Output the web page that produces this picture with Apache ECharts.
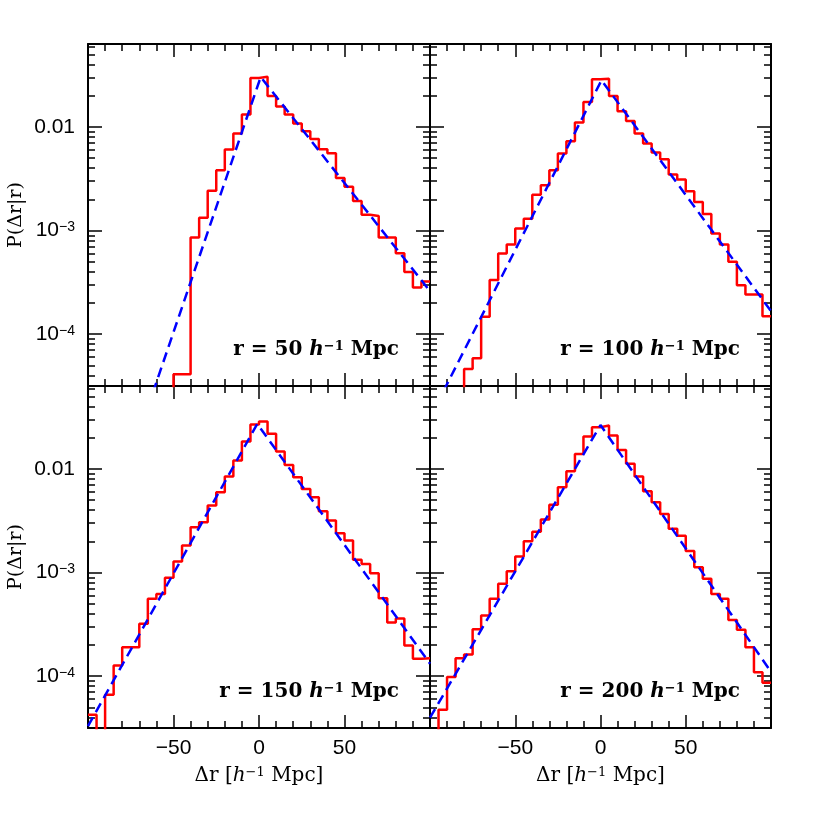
<!DOCTYPE html>
<html>
<head>
<meta charset="utf-8">
<script src="https://cdn.jsdelivr.net/npm/echarts@6/dist/echarts.min.js"></script>
<style>
  html, body { margin: 0; padding: 0; background: #fff; }
  #chart { width: 814px; height: 814px; }
</style>
</head>
<body>
<div id="chart"></div>
<script>
// histogram bins: left edges, 5 h^-1 Mpc wide
const binLeft = [-100, -95, -90, -85, -80, -75, -70, -65, -60, -55,
                 -50, -45, -40, -35, -30, -25, -20, -15, -10, -5,
                 0, 5, 10, 15, 20, 25, 30, 35, 40, 45,
                 50, 55, 60, 65, 70, 75, 80, 85, 90, 95];
const binEnd = 100;
const EMPTY = 1e-7; // empty bin, below the plotted range

const hist50 = [EMPTY, EMPTY, EMPTY, EMPTY, EMPTY, EMPTY, EMPTY, EMPTY, EMPTY, EMPTY,
  4.1e-5, 4.1e-5, 8.55e-4, 1.33e-3, 2.42e-3, 3.82e-3, 6.04e-3, 8.63e-3, 1.315e-2, 0.0297,
  0.0304, 0.0199, 0.0157, 0.01315, 0.01076, 9.08e-3, 7.66e-3, 6.09e-3, 5.57e-3, 3.22e-3,
  2.64e-3, 1.93e-3, 1.42e-3, 1.38e-3, 8.55e-4, 8.55e-4, 6.04e-4, 3.99e-4, 2.82e-4, 3.22e-4];
const hist100 = [EMPTY, EMPTY, EMPTY, EMPTY, 4.6e-5, 5.85e-5, 1.47e-4, 3.33e-4, 6.0e-4, 7.35e-4,
  1.047e-3, 1.3e-3, 2.21e-3, 2.74e-3, 3.82e-3, 5.53e-3, 7.27e-3, 0.0110, 0.01742, 0.0288,
  0.0292, 0.0199, 0.01416, 0.01143, 8.63e-3, 6.9e-3, 5.65e-3, 4.87e-3, 3.47e-3, 3.1e-3,
  2.39e-3, 1.89e-3, 1.44e-3, 9.35e-4, 7.33e-4, 4.99e-4, 2.97e-4, 2.42e-4, 2.42e-4, 1.49e-4];
const hist150 = [4.24e-5, EMPTY, 6.6e-5, 1.27e-4, 1.9e-4, 1.9e-4, 3.2e-4, 5.57e-4, 6.22e-4, 8.89e-4,
  1.276e-3, 1.82e-3, 2.74e-3, 3.06e-3, 4.43e-3, 5.96e-3, 8.43e-3, 0.01203, 0.01837, 0.0268,
  0.0286, 0.0218, 0.0147, 0.01093, 8.31e-3, 6.41e-3, 5.33e-3, 3.91e-3, 3.18e-3, 2.39e-3,
  2.04e-3, 1.33e-3, 1.21e-3, 9.86e-4, 5.65e-4, 3.3e-4, 3.6e-4, 1.98e-4, 1.47e-4, 1.49e-4];
const hist200 = [EMPTY, 4.74e-5, 9.8e-5, 1.49e-4, 1.62e-4, 2.84e-4, 3.85e-4, 5.57e-4, 7.78e-4, 1.03e-3,
  1.43e-3, 2.0e-3, 2.48e-3, 3.24e-3, 4.5e-3, 6.65e-3, 9.5e-3, 0.0139, 0.0206, 0.0252,
  0.0262, 0.021, 0.0152, 0.0112, 8.43e-3, 6.09e-3, 4.77e-3, 3.68e-3, 2.64e-3, 2.27e-3,
  1.61e-3, 1.125e-3, 8.69e-4, 6.22e-4, 5.57e-4, 3.49e-4, 2.8e-4, 1.9e-4, 1.09e-4, 8.63e-5];

// dashed model curves
const fit50 = [[-62, 2.75e-5], [1, 0.0303], [100, 2.6e-4]];
const fit100 = [[-92, 2.84e-5], [0.6, 0.0282], [100, 1.67e-4]];
const fit150 = [[-100, 3.3e-5], [-1, 0.0272], [100, 1.32e-4]];
const fit200 = [[-100, 3.97e-5], [0, 0.0265], [100, 1.1e-4]];

const panelR = ['50', '100', '150', '200'];
const panelHist = [hist50, hist100, hist150, hist200];
const panelFit = [fit50, fit100, fit150, fit200];

const xLabelValues = [-50, 0, 50];
const yMajorTicks = [1e-4, 1e-3, 0.01];
const yMajorLabels = ['10{e|−4}', '10{e|−3}', '0.01'];
const yMinorTicks = [];
for (const d of [1e-5, 1e-4, 1e-3, 1e-2]) {
  for (let m = 2; m <= 9; m++) yMinorTicks.push(+(m * d).toPrecision(3));
}
const yMin = 3.16e-5, yMax = 0.0631;

const grids = [
  { left: 88, top: 44, width: 342, height: 342 },
  { left: 430, top: 44, width: 341, height: 342 },
  { left: 88, top: 386, width: 342, height: 342 },
  { left: 430, top: 386, width: 341, height: 342 }
];

const SANS = 'Liberation Sans';
const SERIF = 'DejaVu Serif';
const black = '#000';

let xAxis = [], yAxis = [], series = [], graphic = [];

grids.forEach((g, i) => {
  const bottomRow = i >= 2, leftCol = i % 2 === 0;
  const xc = {
    type: 'value', gridIndex: i, min: -100, max: 100, interval: 50,
    axisLine: { onZero: false, lineStyle: { color: black, width: 2 } },
    axisTick: { inside: true, length: 13, lineStyle: { color: black, width: 1.5 } },
    minorTick: { show: true, splitNumber: 5, length: 7, lineStyle: { color: black, width: 1.5 } },
    splitLine: { show: false },
    minorSplitLine: { show: false }
  };
  xAxis.push(Object.assign({}, xc, {
    position: 'bottom',
    axisLabel: bottomRow ? {
      customValues: xLabelValues, margin: 10, color: black,
      fontFamily: SANS, fontSize: 21,
      formatter: v => (v < 0 ? '−' + Math.abs(v) : String(v))
    } : { show: false },
    name: bottomRow ? 'Δr [{i|h}{e|−1} Mpc]' : '',
    nameLocation: 'middle', nameGap: 38,
    nameTextStyle: {
      color: black, fontFamily: SERIF, fontSize: 20,
      rich: {
        i: { fontFamily: SERIF, fontSize: 20, fontStyle: 'italic', color: black },
        e: { fontFamily: SERIF, fontSize: 13, verticalAlign: 'top', color: black }
      }
    }
  }));
  xAxis.push(Object.assign({}, xc, { position: 'top', axisLabel: { show: false } }));

  const yc = {
    type: 'log', logBase: 10, gridIndex: i, min: yMin, max: yMax,
    splitLine: { show: false }
  };
  yAxis.push(Object.assign({}, yc, {
    position: 'left',
    axisLine: { onZero: false, lineStyle: { color: black, width: 2 } },
    axisTick: { inside: true, length: 14, customValues: yMajorTicks, lineStyle: { color: black, width: 1.5 } },
    axisLabel: leftCol ? {
      customValues: yMajorTicks, margin: 13, color: black,
      fontFamily: SANS, fontSize: 21,
      formatter: v => yMajorLabels[yMajorTicks.findIndex(t => Math.abs(t - v) / t < 1e-6)],
      rich: { e: { fontFamily: SANS, fontSize: 14, verticalAlign: 'top', color: black } }
    } : { show: false },
    name: leftCol ? 'P(Δr|r)' : '',
    nameLocation: 'middle', nameGap: 62, nameRotate: 90,
    nameTextStyle: { color: black, fontFamily: SERIF, fontSize: 19 }
  }));
  yAxis.push(Object.assign({}, yc, {
    position: 'right',
    axisLine: { onZero: false, lineStyle: { color: black, width: 2 } },
    axisTick: { inside: true, length: 14, customValues: yMajorTicks, lineStyle: { color: black, width: 1.5 } },
    axisLabel: { show: false }
  }));
  ['left', 'right'].forEach(pos => {
    yAxis.push(Object.assign({}, yc, {
      position: pos,
      axisLine: { show: false, onZero: false },
      axisTick: { inside: true, length: 7, customValues: yMinorTicks, lineStyle: { color: black, width: 1.5 } },
      axisLabel: { show: false }
    }));
  });

  const hist = panelHist[i].map((v, k) => [binLeft[k], v]);
  hist.push([binEnd, panelHist[i][panelHist[i].length - 1]]);
  series.push({
    type: 'line', xAxisIndex: 2 * i, yAxisIndex: 4 * i, step: 'end',
    data: hist, showSymbol: false, clip: true, z: 2,
    lineStyle: { color: '#ff0000', width: 2.5 }
  });
  series.push({
    type: 'line', xAxisIndex: 2 * i, yAxisIndex: 4 * i,
    data: panelFit[i], showSymbol: false, clip: true, z: 3,
    lineStyle: { color: '#0000ff', width: 2.5, type: [10, 6] }
  });

  graphic.push({
    type: 'text', z: 10,
    x: g.left + g.width - 31, y: g.top + 306,
    style: {
      text: 'r = ' + panelR[i] + ' {i|h}{e|−1} Mpc',
      align: 'right', verticalAlign: 'middle',
      fill: black, fontFamily: SERIF, fontSize: 20, fontWeight: 'bold',
      rich: {
        i: { fontFamily: SERIF, fontSize: 20, fontWeight: 'bold', fontStyle: 'italic', fill: black },
        e: { fontFamily: SERIF, fontSize: 13, fontWeight: 'bold', verticalAlign: 'top', fill: black }
      }
    }
  });
});

let myChart = echarts.init(document.querySelector('#chart'), null, { renderer: 'canvas' });
let option = {
  animation: false,
  backgroundColor: '#fff',
  grid: grids.map(g => Object.assign({ outerBoundsMode: 'none', containLabel: false }, g)),
  xAxis: xAxis,
  yAxis: yAxis,
  series: series,
  graphic: graphic
};
myChart.setOption(option);
</script>
</body>
</html>
